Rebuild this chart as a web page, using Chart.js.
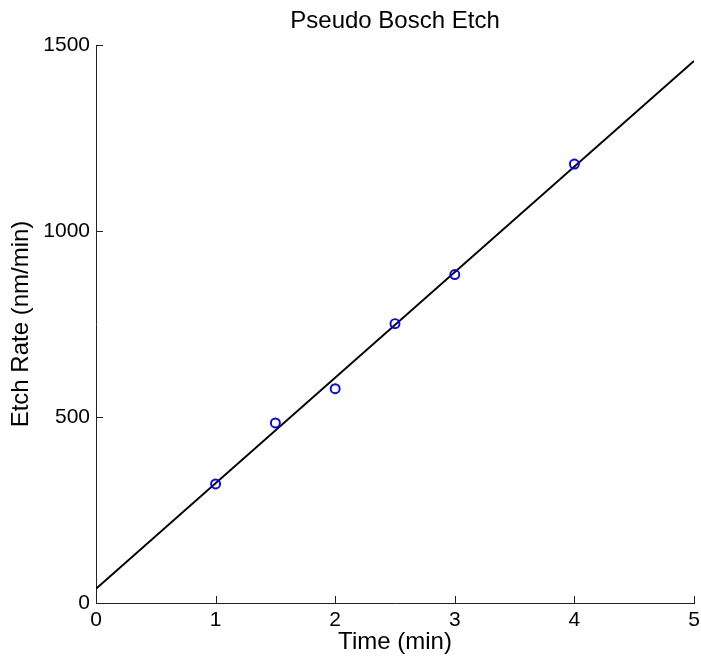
<!DOCTYPE html>
<html>
<head>
<meta charset="utf-8">
<script src="https://cdn.jsdelivr.net/npm/chart.js@4/dist/chart.umd.min.js"></script>
<style>
  html, body { margin: 0; padding: 0; background: #fff; }
  #wrap { width: 701px; height: 660px; }
</style>
</head>
<body>
<div id="wrap"><canvas id="c" width="701" height="660"></canvas></div>
<script>
// Measured etch rate vs. etch time
const timeMin = [1, 1.5, 2, 2.5, 3, 4];
const etchRate = [320, 484, 576, 751, 883, 1180];

// Linear fit line endpoints
const fitTime = [0, 5];
const fitRate = [38, 1457];

// Axis ticks
const xTicks = [0, 1, 2, 3, 4, 5];
const yTicks = [0, 500, 1000, 1500];

const chartTitle = 'Pseudo Bosch Etch';
const xTitle = 'Time (min)';
const yTitle = 'Etch Rate (nm/min)';

const FONT = 'Liberation Sans, Arial, Helvetica, sans-serif';
const AXIS_COLOR = '#222';

// Inward tick marks plus the centred title above the plot box
const decorations = {
  id: 'decorations',
  afterDraw(chart) {
    const ctx = chart.ctx;
    const xs = chart.scales.x, ys = chart.scales.y;
    const area = chart.chartArea;
    ctx.save();
    ctx.strokeStyle = AXIS_COLOR;
    ctx.lineWidth = 1;
    ctx.beginPath();
    xTicks.forEach(v => {
      const px = Math.round(xs.getPixelForValue(v)) + 0.5;
      ctx.moveTo(px, area.bottom);
      ctx.lineTo(px, area.bottom - 7);
    });
    yTicks.forEach(v => {
      const py = Math.round(ys.getPixelForValue(v)) + 0.5;
      ctx.moveTo(area.left, py);
      ctx.lineTo(area.left + 7, py);
    });
    ctx.stroke();

    ctx.fillStyle = '#000';
    ctx.font = '24px ' + FONT;
    ctx.textAlign = 'center';
    ctx.textBaseline = 'middle';
    ctx.fillText(chartTitle, (area.left + area.right) / 2, 21);
    ctx.restore();
  }
};

new Chart(document.getElementById('c'), {
  type: 'scatter',
  data: {
    datasets: [
      {
        label: 'Measured',
        data: timeMin.map((t, i) => ({ x: t, y: etchRate[i] })),
        showLine: false,
        pointStyle: 'circle',
        pointRadius: 4.5,
        pointHoverRadius: 4.5,
        pointBorderWidth: 1.9,
        pointBorderColor: '#0000ff',
        pointBackgroundColor: 'rgba(0,0,0,0)'
      },
      {
        label: 'Fit',
        data: fitTime.map((t, i) => ({ x: t, y: fitRate[i] })),
        showLine: true,
        borderColor: '#000',
        borderWidth: 2,
        pointRadius: 0,
        fill: false
      }
    ]
  },
  options: {
    responsive: false,
    animation: false,
    devicePixelRatio: 1,
    layout: { padding: { left: 0, right: 7, top: 45, bottom: 0 } },
    plugins: {
      legend: { display: false },
      title: { display: false },
      tooltip: { enabled: false }
    },
    scales: {
      x: {
        type: 'linear',
        min: 0,
        max: 5,
        afterBuildTicks: s => { s.ticks = xTicks.map(v => ({ value: v })); },
        grid: { display: false, drawTicks: false },
        border: { display: true, color: AXIS_COLOR, width: 1 },
        ticks: {
          color: '#000',
          padding: 5,
          maxRotation: 0,
          callback: v => String(v),
          font: { family: FONT, size: 21 }
        },
        title: {
          display: true,
          text: xTitle,
          color: '#000',
          font: { family: FONT, size: 24 },
          padding: { top: 0, bottom: 3 }
        },
        afterFit: s => { s.height = 57; s.paddingRight = 0; s.paddingLeft = 0; }
      },
      y: {
        type: 'linear',
        min: 0,
        max: 1500,
        afterBuildTicks: s => { s.ticks = yTicks.map(v => ({ value: v })); },
        grid: { display: false, drawTicks: false },
        border: { display: true, color: AXIS_COLOR, width: 1 },
        ticks: {
          color: '#000',
          padding: 6,
          callback: v => String(v),
          font: { family: FONT, size: 21 }
        },
        title: {
          display: true,
          text: yTitle,
          color: '#000',
          font: { family: FONT, size: 24 },
          padding: { top: 7, bottom: 0 }
        },
        afterFit: s => { s.width = 96; }
      }
    }
  },
  plugins: [decorations]
});
</script>
</body>
</html>
